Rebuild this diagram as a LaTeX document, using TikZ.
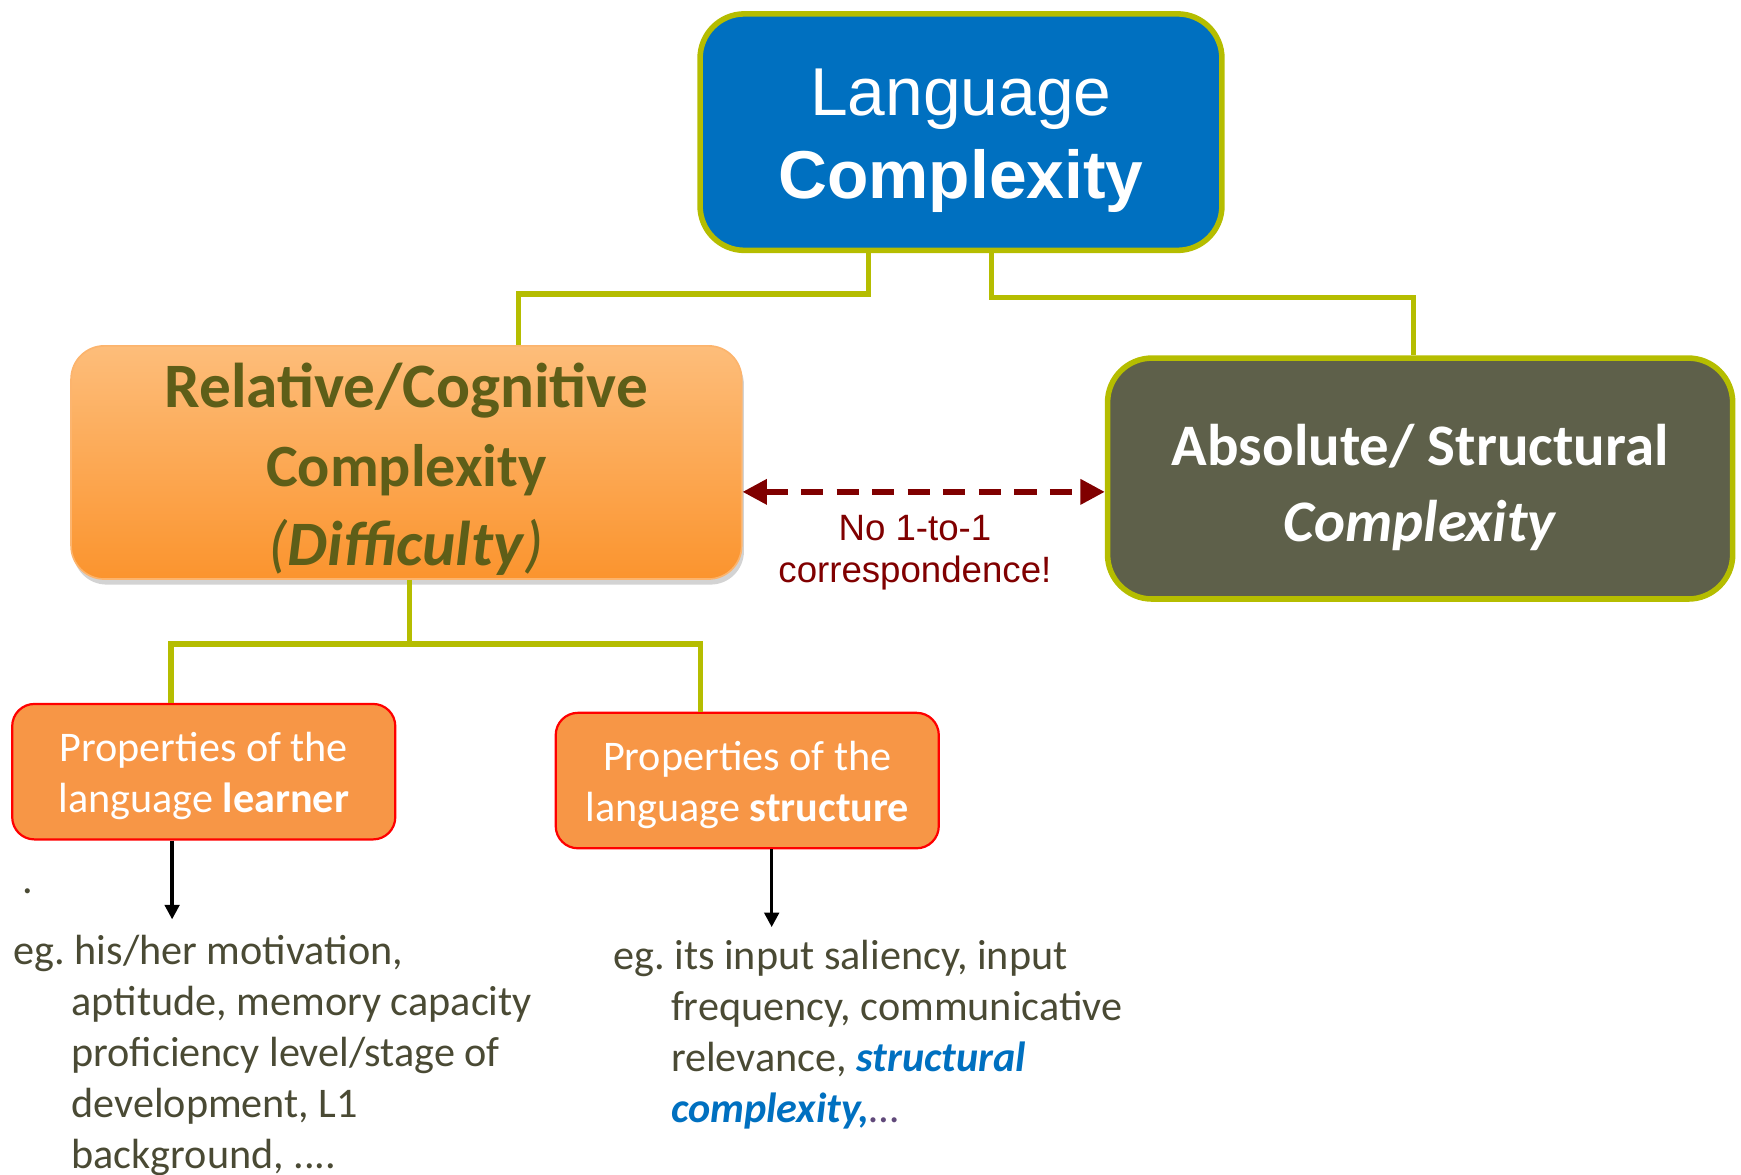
\documentclass[tikz,border=0pt]{standalone}
\usepackage{fontspec}
\setmainfont{Carlito}
\newfontfamily\arialfont{Liberation Sans}
\usetikzlibrary{arrows.meta,shadows}
\definecolor{lc-blue}{RGB}{0,112,192}
\definecolor{lc-lime}{RGB}{181,189,0}
\definecolor{lc-olive}{RGB}{94,94,24}
\definecolor{lc-grey}{RGB}{94,96,74}
\definecolor{lc-text}{RGB}{74,74,52}
\definecolor{lc-red}{RGB}{128,0,0}
\definecolor{lc-orange}{RGB}{247,150,70}
\definecolor{lc-orange-top}{RGB}{253,189,122}
\definecolor{lc-orange-bot}{RGB}{251,148,46}
\definecolor{lc-dots}{RGB}{96,73,122}

\tikzset{
	link/.style={draw=lc-lime, line width=2.5pt},
	propbox/.style={draw=red, line width=1pt, fill=lc-orange, rounded corners=10pt, minimum width=172.5pt, minimum height=61pt, text=white, align=center, inner sep=0pt, font=\fontsize{19}{23}\selectfont},
	pointer/.style={-{Triangle[length=6.5pt,width=6.5pt]}, line width=1.5pt},
	example/.style={anchor=north west, align=left, inner sep=0pt, text=lc-text, font=\frenchspacing\fontsize{19}{23}\selectfont}
}

\begin{document}
\begin{tikzpicture}[x=0.5pt, y=-0.5pt]
\useasboundingbox (0,0) rectangle (1568,1058);

% top
\node [draw=lc-lime, line width=2.5pt, fill=lc-blue, rounded corners=20pt, minimum width=235pt, minimum height=106.5pt, text=white, align=center, font=\arialfont\fontsize{30.5}{37.5}\selectfont] (lang) at (865.5,119) {\rule{0pt}{28.8pt}Language\\\textbf{Complexity}};

% two kinds of complexity
\node [draw=lc-orange-bot!70!white, line width=0.75pt, top color=lc-orange-top, bottom color=lc-orange-bot, rounded corners=15pt, minimum width=302pt, minimum height=105pt, inner ysep=0pt, text=lc-olive, align=center, font=\bfseries\fontsize{27}{35.5}\selectfont, drop shadow={shadow xshift=1pt, shadow yshift=-2.5pt, opacity=0.35}] (rel) at (366,416.5) {\rule{0pt}{26.4pt}{\fontsize{28.5}{35.5}\selectfont Relative/Cognitive}\\Complexity\\{\fontsize{28.5}{35.5}\selectfont{\mdseries\itshape(}\textit{Difficulty}{\mdseries\itshape)}}};
\node [draw=lc-lime, line width=2.5pt, fill=lc-grey, rounded corners=20pt, minimum width=281.5pt, minimum height=108.5pt, text=white, align=center, font=\bfseries\fontsize{26.5}{34}\selectfont] (abs) at (1279,431) {\rule{0pt}{26.5pt}Absolute/ Structural\\\textit{Complexity}};

\draw [link] ([xshift=-41.75pt]lang.south) -- ++(0,37) -| ([xshift=50.5pt]rel.north);
\draw [link] ([xshift=13.75pt]lang.south) -- ++(0,40) -| ([xshift=-3pt]abs.north);

% no correspondence
\draw [lc-red, line width=2.5pt, dash pattern=on 10pt off 6pt, {Triangle[length=11pt,width=11pt]}-{Triangle[length=11pt,width=11pt]}] ([yshift=-13.25pt]rel.east) -- ([yshift=-13.25pt]rel.east -| abs.west);
\node [text=lc-red, align=center, font=\arialfont\fontsize{16.5}{19}\selectfont] (note) at (824,498) {No 1-to-1\\correspondence!};

% properties
\node [propbox] (learner) at (183.5,695) {\rule{0pt}{17pt}Properties of the\\language \textbf{learner}};
\node [propbox] (struct) at (673,703) {\rule{0pt}{17pt}Properties of the\\language \textbf{structure}};

\draw [link] ([xshift=1.5pt]rel.south) -- ++(0,58) coordinate (fork);
\draw [link] (fork) -| ([xshift=-14.75pt]learner.north);
\draw [link] (fork) -| ([xshift=-21pt]struct.north);

% examples
\draw [pointer] ([xshift=-14.25pt]learner.south) -- ++(0,71) coordinate (learner-end);
\draw [pointer] ([xshift=11pt]struct.south) -- ++(0,70) coordinate (struct-end);

\node [inner sep=0pt, text=lc-text, font=\fontsize{19}{23}\selectfont] (stray) at (25,803) {.};

\node [example] (learner-eg) at (12,842) {eg. his/her motivation,\\
	\hspace*{26pt}aptitude, memory capacity\\
	\hspace*{26pt}proficiency level/stage of\\
	\hspace*{26pt}development, L1\\
	\hspace*{26pt}background, ....};
\node [example] (struct-eg) at (552,846) {eg. its input saliency, input\\
	\hspace*{26pt}frequency, communicative\\
	\hspace*{26pt}relevance, \textcolor{lc-blue}{\textbf{\textit{structural}}}\\
	\hspace*{26pt}\textcolor{lc-blue}{\textbf{\textit{complexity,}}}\textcolor{lc-dots}{…}};
\end{tikzpicture}
\end{document}
